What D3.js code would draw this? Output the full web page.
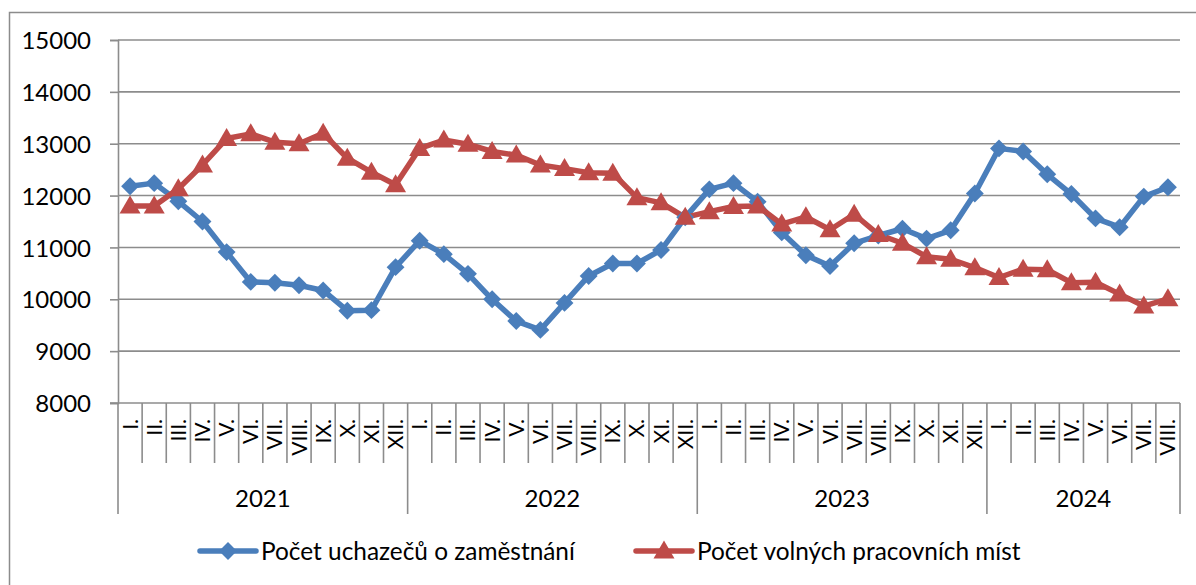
<!DOCTYPE html>
<html>
<head>
<meta charset="utf-8">
<script src="https://cdn.jsdelivr.net/npm/d3@7"></script>
<style>
  html, body { margin: 0; padding: 0; background: #fff; }
  svg { display: block; }
  text { font-family: Lato, "Open Sans", sans-serif; fill: #000; }
</style>
</head>
<body>
<svg id="chart" width="1196" height="585"></svg>
<script>
// ---- data ----
const years = ["2021", "2022", "2023", "2024"];
const monthsPerYear = [12, 12, 12, 8];
const monthLabels = ["I.", "II.", "III.", "IV.", "V.", "VI.", "VII.", "VIII.", "IX.", "X.", "XI.", "XII."];
const seriesNames = ["Počet uchazečů o zaměstnání", "Počet volných pracovních míst"];
const uchazeci = [
  12180, 12240, 11890, 11500, 10910, 10335, 10320, 10270, 10170, 9780, 9790, 10620,
  11130, 10870, 10490, 10000, 9580, 9410, 9930, 10450, 10690, 10690, 10950, 11580,
  12120, 12240, 11880, 11290, 10850, 10640, 11080, 11230, 11360, 11170, 11330, 12040,
  12910, 12850, 12410, 12030, 11560, 11390, 11980, 12160
];
const volnaMista = [
  11800, 11800, 12130, 12590, 13100, 13190, 13030, 13000, 13200, 12720, 12450, 12210,
  12910, 13070, 12990, 12850, 12780, 12590, 12520, 12440, 12430, 11960, 11860, 11580,
  11690, 11790, 11800, 11450, 11590, 11340, 11640, 11250, 11080, 10820, 10770, 10610,
  10420, 10580, 10570, 10320, 10330, 10100, 9870, 10010
];
const yTicks = [8000, 9000, 10000, 11000, 12000, 13000, 14000, 15000];

(function () {
// ---- build categories ----
const cats = [];
years.forEach((yr, yi) => {
  for (let m = 0; m < monthsPerYear[yi]; m++) cats.push({ key: yr + "-" + m, year: yr, month: monthLabels[m] });
});

const colors = ["#4A7EBB", "#BE4B48"];
const gridColor = "#8c8c8c";

const svg = d3.select("#chart");

// outer chart border
svg.append("rect")
  .attr("x", 9.5).attr("y", 12.5)
  .attr("width", 1200).attr("height", 600)
  .attr("fill", "none").attr("stroke", gridColor).attr("stroke-width", 1.5);

const pLeft = 118, pRight = 1180, pTop = 40, pBottom = 403;

const x = d3.scaleBand().domain(cats.map(d => d.key)).range([pLeft, pRight]).padding(0);
const y = d3.scaleLinear().domain([8000, 15000]).range([pBottom, pTop]);

// gridlines
svg.append("g").selectAll("line").data(yTicks.filter(t => t > 8000)).join("line")
  .attr("x1", pLeft).attr("x2", pRight)
  .attr("y1", d => y(d)).attr("y2", d => y(d))
  .attr("stroke", gridColor).attr("stroke-width", 1.6);

// y axis
const yAxis = svg.append("g").attr("transform", `translate(${pLeft},0)`)
  .call(d3.axisLeft(y).tickValues(yTicks).tickSize(8).tickPadding(19).tickFormat(d3.format("d")));
yAxis.select(".domain").attr("stroke", gridColor).attr("stroke-width", 1.6);
yAxis.selectAll(".tick line").attr("stroke", gridColor).attr("stroke-width", 1.6);
yAxis.selectAll(".tick text").attr("font-size", 24).attr("font-family", "Lato, sans-serif").attr("dy", "0.36em");

// x axis line
svg.append("line").attr("x1", pLeft - 8).attr("x2", pRight)
  .attr("y1", pBottom).attr("y2", pBottom)
  .attr("stroke", gridColor).attr("stroke-width", 1.6);

// month boundary ticks
const step = x.step();
const boundaries = d3.range(cats.length + 1);
let cum = 0;
const yearStarts = [0];
monthsPerYear.forEach(n => { cum += n; yearStarts.push(cum); });
svg.append("g").selectAll("line").data(boundaries).join("line")
  .attr("x1", i => pLeft + i * step).attr("x2", i => pLeft + i * step)
  .attr("y1", pBottom)
  .attr("y2", i => yearStarts.includes(i) ? 514 : 463)
  .attr("stroke", gridColor).attr("stroke-width", 1.6);

// month labels (rotated)
svg.append("g").selectAll("text").data(cats).join("text")
  .attr("transform", d => `translate(${x(d.key) + step / 2 + 7.5},${419}) rotate(-90)`)
  .attr("text-anchor", "end")
  .attr("font-size", 21)
  .text(d => d.month);

// year labels
svg.append("g").selectAll("text").data(years).join("text")
  .attr("x", (d, i) => pLeft + (yearStarts[i] + yearStarts[i + 1]) / 2 * step)
  .attr("y", 507)
  .attr("text-anchor", "middle")
  .attr("font-size", 24)
  .text(d => d);

// lines
const line = d3.line().x((d, i) => x(cats[i].key) + step / 2).y(d => y(d));
const allSeries = [uchazeci, volnaMista];
allSeries.forEach((s, si) => {
  svg.append("path").datum(s)
    .attr("d", line)
    .attr("fill", "none")
    .attr("stroke", colors[si])
    .attr("stroke-width", 5.5)
    .attr("stroke-linejoin", "round");
});

const diamond = d3.symbol().type(d3.symbolSquare).size(160)();
const triangle = "M0,-10.5L10.5,7.5L-10.5,7.5Z";

// markers
svg.append("g").selectAll("path").data(uchazeci).join("path")
  .attr("transform", (d, i) => `translate(${x(cats[i].key) + step / 2},${y(d)}) rotate(45)`)
  .attr("d", diamond)
  .attr("fill", colors[0]);
svg.append("g").selectAll("path").data(volnaMista).join("path")
  .attr("transform", (d, i) => `translate(${x(cats[i].key) + step / 2},${y(d)})`)
  .attr("d", triangle)
  .attr("fill", colors[1]);

// legend
const legend = svg.append("g");
const legendItems = [
  { name: seriesNames[0], x0: 200, marker: "diamond" },
  { name: seriesNames[1], x0: 636, marker: "triangle" }
];
legendItems.forEach((it, i) => {
  const g = legend.append("g");
  g.append("line").attr("x1", it.x0).attr("x2", it.x0 + 56)
    .attr("y1", 551).attr("y2", 551)
    .attr("stroke", colors[i]).attr("stroke-width", 5.5).attr("stroke-linecap", "round");
  g.append("path")
    .attr("transform", `translate(${it.x0 + 28},551)` + (it.marker === "diamond" ? " rotate(45)" : ""))
    .attr("d", it.marker === "diamond" ? diamond : triangle)
    .attr("fill", colors[i]);
  g.append("text").attr("x", it.x0 + 61).attr("y", 551).attr("dy", "0.35em")
    .attr("font-size", 24.4).text(it.name);
});
})();
</script>
</body>
</html>
